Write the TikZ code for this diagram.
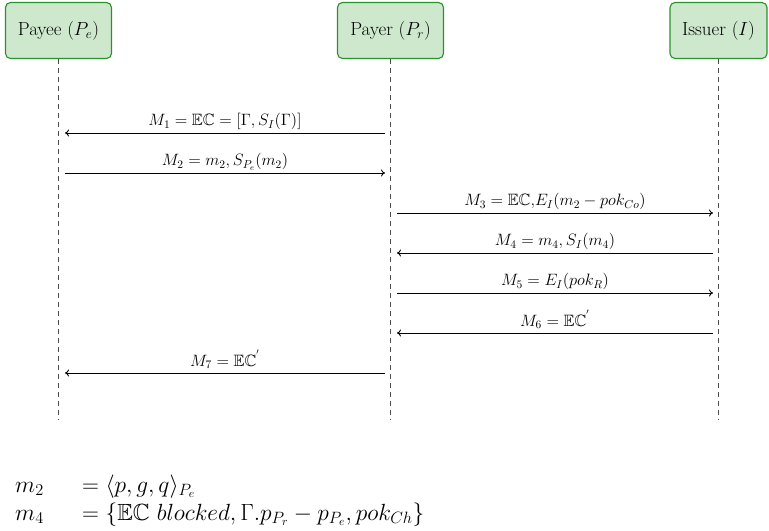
\RequirePackage{fix-cm}
\documentclass[tikz,border=0pt]{standalone}
\usepackage{amsmath,amssymb}
\usetikzlibrary{arrows.meta}
\definecolor{boxfill}{HTML}{CDE8CD}
\definecolor{boxdraw}{HTML}{2A922A}
\tikzset{
  actor/.style={draw=boxdraw, fill=boxfill, line width=1.1bp, rounded corners=5bp, minimum height=56bp, inner xsep=4bp, font=\fontsize{19}{21}\selectfont},
  life/.style={draw=black!70, dash pattern=on 5bp off 4bp, line width=0.6bp},
  msg/.style={draw=black, line width=0.9bp, -{To[length=4bp,width=7bp]}},
  lab/.style={anchor=base, font=\fontsize{16.5}{18}\selectfont, inner sep=0pt},
  eqn/.style={anchor=base west, font=\fontsize{23.5}{26}\selectfont, inner sep=0pt},
}
\begin{document}
\begin{tikzpicture}[x=1bp,y=-1bp]
\useasboundingbox (0,0) rectangle (769,531);
\node[actor, minimum width=106bp] (pe) at (58.5,30.5) {Payee ($P_e$)};
\node[actor, minimum width=106bp] (pr) at (390.5,30.5) {Payer ($P_r$)};
\node[actor, minimum width=97bp] (is) at (718.5,30.5) {Issuer ($I$)};
\coordinate (pee) at (58.5,420);
\coordinate (pre) at (390.5,420);
\coordinate (ise) at (718.5,420);
\draw[life] (pe.south) -- (pee);
\draw[life] (pr.south) -- (pre);
\draw[life] (is.south) -- (ise);
% message endpoints
\foreach \n/\y in {1/133,2/173,7/373} {
  \coordinate (a\n) at (65,\y);
  \coordinate (b\n) at (385,\y);
}
\foreach \n/\y in {3/213,4/253,5/293,6/333} {
  \coordinate (c\n) at (397,\y);
  \coordinate (d\n) at (713,\y);
}
\draw[msg] (b1) -- node[lab, yshift=7bp] (l1) {$M_1 = \mathbb{EC} = [\Gamma, S_I(\Gamma)]$} (a1);
\draw[msg] (a2) -- node[lab, yshift=7bp] (l2) {$M_2 = m_2, S_{P_e}(m_2)$} (b2);
\draw[msg] (c3) -- node[lab, yshift=7bp] (l3) {$M_3 = \mathbb{EC}{,}E_I(m_2 - pok_{Co})$} (d3);
\draw[msg] (d4) -- node[lab, yshift=7bp] (l4) {$M_4 = m_4, S_I(m_4)$} (c4);
\draw[msg] (c5) -- node[lab, yshift=7bp] (l5) {$M_5 = E_I(pok_R)$} (d5);
\draw[msg] (d6) -- node[lab, yshift=7bp] (l6) {$M_6 = \mathbb{EC}^{'}$} (c6);
\draw[msg] (b7) -- node[lab, yshift=7bp] (l7) {$M_7 = \mathbb{EC}^{'}$} (a7);
\node[eqn] (m2) at (15,492) {$m_2$};
\node[eqn] (e2) at (82,492) {$= \langle p, g, q\rangle_{P_e}$};
\node[eqn] (m4) at (15,520) {$m_4$};
\node[eqn] (e4) at (82,520) {$= \{\mathbb{EC}\ blocked, \Gamma.p_{P_r} - p_{P_e}, pok_{Ch}\}$};
\end{tikzpicture}
\end{document}
